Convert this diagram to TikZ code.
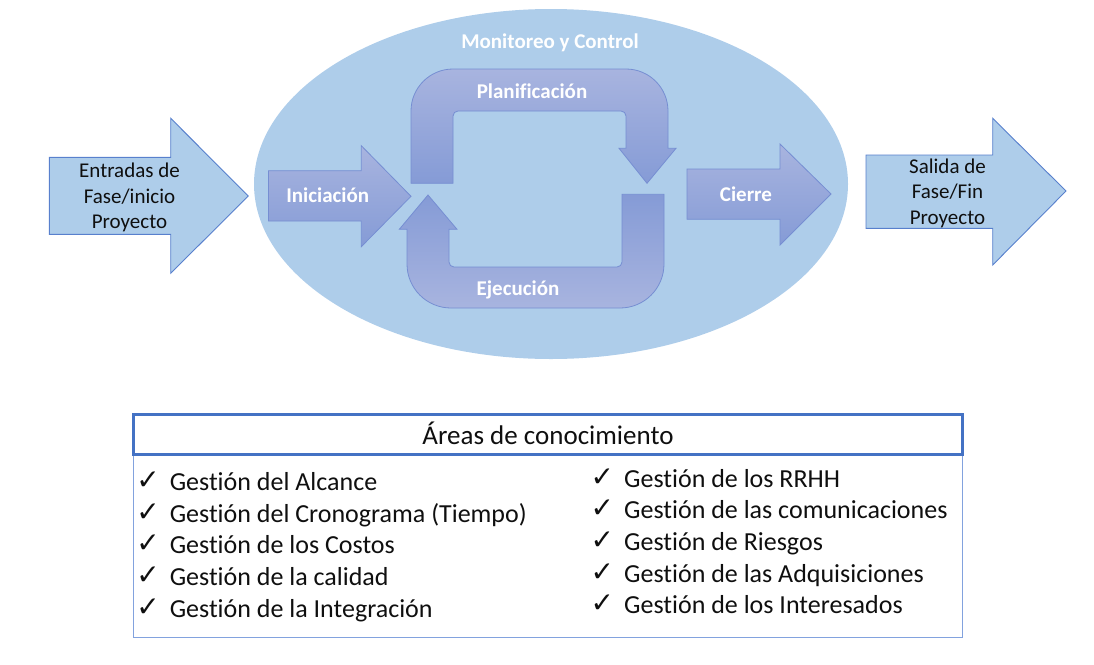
\documentclass[tikz,border=0pt]{standalone}
\usepackage{fontspec}
\setmainfont{Carlito}[Ligatures=NoCommon]
\newfontfamily\symfont{DejaVu Sans}
\definecolor{ellfill}{RGB}{174,205,234}
\definecolor{arrowedge}{RGB}{88,128,205}
\definecolor{cycedge}{RGB}{118,142,210}
\definecolor{cyclight}{RGB}{168,180,223}
\definecolor{cycdark}{RGB}{133,155,214}
\definecolor{hdredge}{RGB}{68,114,196}
\definecolor{boxedge}{RGB}{130,162,222}
\definecolor{ink}{RGB}{15,15,15}
\tikzset{
  lbl/.style={text=white, font=\bfseries\fontsize{21}{25}\selectfont, inner sep=0pt, anchor=base},
  blk/.style={text=ink, font=\fontsize{21}{25.5}\selectfont, align=center, inner sep=0pt},
  item/.style={anchor=base west, inner sep=0pt, text=ink, font=\fontsize{26}{30}\selectfont},
  bigarrow/.style={fill=ellfill, draw=arrowedge, line width=0.9pt},
  cycdown/.style={draw=cycedge, line width=0.8pt, top color=cyclight, bottom color=cycdark},
  cycup/.style={draw=cycedge, line width=0.8pt, top color=cycdark, bottom color=cyclight}
}
\newcommand{\ck}{\llap{\raisebox{1pt}{\symfont\fontsize{28}{28}\selectfont ✓}\hspace{10pt}}}
\begin{document}
\begin{tikzpicture}[x=1pt,y=-1pt]
\useasboundingbox (0,0) rectangle (1094,664);
% ellipse
\fill[ellfill] (551,184) ellipse [x radius=297, y radius=175];
\node[lbl] (mon) at (550,48.3) {Monitoreo y Control};
% input arrow
\path[bigarrow] (49.3,157.3) -- (170.7,157.3) -- (170.7,118.3) -- (248.3,196) -- (170.7,273.3) -- (170.7,234.3) -- (49.3,234.3) -- cycle;
\node[blk] (in) at (129.5,197.5) {Entradas de\\Fase/inicio\\Proyecto};
% output arrow
\path[bigarrow] (866,155) -- (992.7,155) -- (992.7,118.3) -- (1066,191) -- (992.7,265) -- (992.7,228.3) -- (866,228.3) -- cycle;
\node[blk] (out) at (947.5,193) {Salida de\\Fase/Fin\\Proyecto};
% Iniciacion
\path[cycdown] (268.5,170.7) -- (361.3,170.7) -- (361.3,145.7) -- (411,196.3) -- (361.3,246.7) -- (361.3,221) -- (268.5,221) -- cycle;
\node[lbl] (ini) at (327.7,202.7) {Iniciación};
% Cierre
\path[cycdown] (687,169) -- (780,169) -- (780,144) -- (831,194) -- (780,245) -- (780,219.3) -- (687,219.3) -- cycle;
\node[lbl] (cie) at (746,201.7) {Cierre};
% Planificacion
\path[cycdown] (411,183.3) -- (411,111) arc[start angle=180, end angle=270, radius=42]
  -- (626,69) arc[start angle=270, end angle=360, radius=42]
  -- (668,148.3) -- (676,148.3) -- (647,183.3) -- (619,148.3) -- (626,148.3)
  -- (626,116) arc[start angle=0, end angle=-90, radius=5]
  -- (458,111) arc[start angle=270, end angle=180, radius=5]
  -- (453,183.3) -- cycle;
\node[lbl] (pla) at (532,98.3) {Planificación};
% Ejecucion
\path[cycup] (428,195) -- (457,229.3) -- (449,229.3)
  -- (449,262) arc[start angle=180, end angle=90, radius=5]
  -- (617,267) arc[start angle=90, end angle=0, radius=5]
  -- (622,194.3) -- (664,194.3)
  -- (664,264) arc[start angle=0, end angle=90, radius=44]
  -- (451,308) arc[start angle=90, end angle=180, radius=44]
  -- (407,229.3) -- (399.3,229.3) -- cycle;
\node[lbl] (eje) at (518,295) {Ejecución};
% knowledge areas
\draw[boxedge, line width=1pt] (133.3,454) rectangle (962.5,637);
\draw[hdredge, line width=3pt] (133.3,414) rectangle (962.5,454);
\node[anchor=base, inner sep=0pt, text=ink, font=\fontsize{27}{30}\selectfont] (hdr) at (548,444) {Áreas de conocimiento};
\node[item] (l1) at (169.6,490.7) {\ck Gestión del Alcance};
\node[item] (l2) at (169.6,522.3) {\ck Gestión del Cronograma (Tiempo)};
\node[item] (l3) at (169.6,553.9) {\ck Gestión de los Costos};
\node[item] (l4) at (169.6,585.5) {\ck Gestión de la calidad};
\node[item] (l5) at (169.6,617.1) {\ck Gestión de la Integración};
\node[item] (r1) at (624,487.3) {\ck Gestión de los RRHH};
\node[item] (r2) at (624,518.9) {\ck Gestión de las comunicaciones};
\node[item] (r3) at (624,550.5) {\ck Gestión de Riesgos};
\node[item] (r4) at (624,582.1) {\ck Gestión de las Adquisiciones};
\node[item] (r5) at (624,613.7) {\ck Gestión de los Interesados};
\end{tikzpicture}
\end{document}
